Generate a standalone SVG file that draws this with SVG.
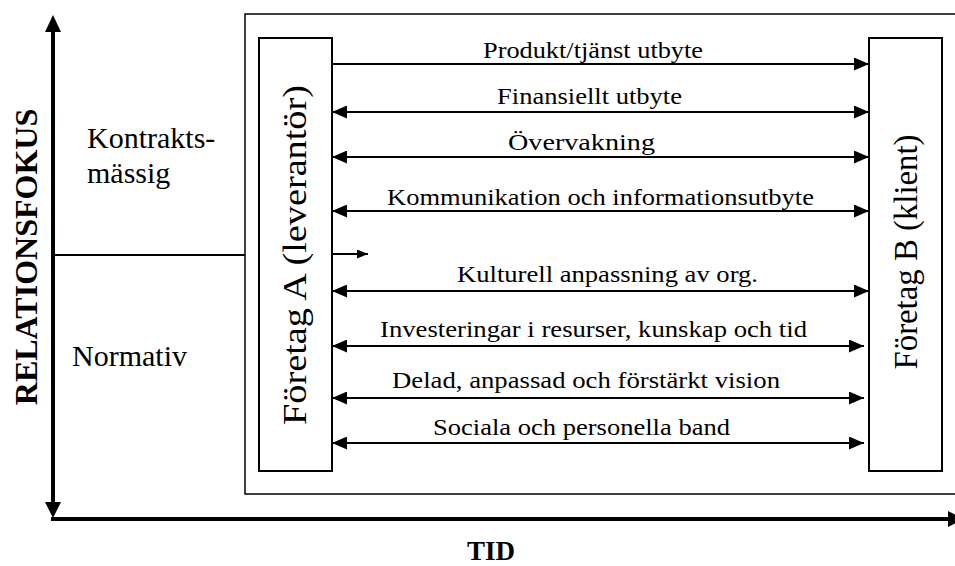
<svg xmlns="http://www.w3.org/2000/svg" width="955" height="566" viewBox="0 0 955 566">
<style>
text{font-family:'Liberation Serif','Times New Roman',serif;fill:#000}
.lbl{font-size:23.5px}
.side{font-size:30px}
.co{font-size:34px}
.ax{font-size:32px;font-weight:bold}
.box{fill:#fff;stroke:#000;stroke-width:2}
.conn{stroke:#000;stroke-width:2;fill:none}
.axis{stroke:#000;stroke-width:4;fill:none}
</style>
<defs>
<marker id="ah" markerUnits="userSpaceOnUse" markerWidth="15" markerHeight="13" refX="15" refY="6.5" orient="auto-start-reverse">
<path d="M0,0 L15,6.5 L0,13 z" fill="#000"/>
</marker>
<marker id="ahs" markerUnits="userSpaceOnUse" markerWidth="11" markerHeight="9" refX="11" refY="4.5" orient="auto">
<path d="M0,0 L11,4.5 L0,9 z" fill="#000"/>
</marker>
</defs>
<rect x="0" y="0" width="955" height="566" fill="#fff"/>

<g id="frame">
<rect x="245" y="14" width="720" height="480" fill="none" stroke="#000" stroke-width="1.5"/>
</g>

<g id="axes">
<line class="axis" x1="53" y1="30" x2="53" y2="503"/>
<path d="M45,32 L53,15 L61,32 z" fill="#000"/>
<path d="M45,502 L53,518 L61,502 z" fill="#000"/>
<line class="axis" x1="51" y1="519" x2="950" y2="519"/>
<path d="M948,511 L964,519 L948,527 z" fill="#000"/>
<line x1="53" y1="255" x2="245" y2="255" stroke="#000" stroke-width="2"/>
<text class="ax" transform="translate(37,257) rotate(-90)" text-anchor="middle">RELATIONSFOKUS</text>
<text class="ax" style="font-size:27px" x="491" y="560" text-anchor="middle">TID</text>
<text class="side" x="87" y="148">Kontrakts-</text>
<text class="side" x="87" y="183">mässig</text>
<text class="side" x="72" y="366">Normativ</text>
</g>

<g id="foretagA">
<rect class="box" x="259" y="38" width="73" height="433"/>
<text class="co" transform="translate(306,255) rotate(-90)" text-anchor="middle" textLength="340" lengthAdjust="spacingAndGlyphs">Företag A (leverantör)</text>
</g>

<g id="foretagB">
<rect class="box" x="869" y="38" width="73" height="433"/>
<text class="co" transform="translate(917,252) rotate(-90)" text-anchor="middle" textLength="235" lengthAdjust="spacingAndGlyphs">Företag B (klient)</text>
</g>

<g id="connectors">
<line class="conn" x1="332" y1="64" x2="869" y2="64" marker-end="url(#ah)"/>
<line class="conn" x1="332" y1="112" x2="869" y2="112" marker-start="url(#ah)" marker-end="url(#ah)"/>
<line class="conn" x1="332" y1="157" x2="869" y2="157" marker-start="url(#ah)" marker-end="url(#ah)"/>
<line class="conn" x1="332" y1="211" x2="869" y2="211" marker-start="url(#ah)" marker-end="url(#ah)"/>
<line class="conn" x1="332" y1="254" x2="368" y2="254" marker-end="url(#ahs)"/>
<line class="conn" x1="332" y1="291" x2="869" y2="291" marker-start="url(#ah)" marker-end="url(#ah)"/>
<line class="conn" x1="332" y1="346" x2="864" y2="346" marker-start="url(#ah)" marker-end="url(#ah)"/>
<line class="conn" x1="332" y1="398" x2="864" y2="398" marker-start="url(#ah)" marker-end="url(#ah)"/>
<line class="conn" x1="332" y1="443" x2="864" y2="443" marker-start="url(#ah)" marker-end="url(#ah)"/>
</g>

<g id="labels">
<text class="lbl" x="483" y="58" textLength="220" lengthAdjust="spacingAndGlyphs">Produkt/tjänst utbyte</text>
<text class="lbl" x="497" y="104" textLength="185" lengthAdjust="spacingAndGlyphs">Finansiellt utbyte</text>
<text class="lbl" x="508" y="150" textLength="147" lengthAdjust="spacingAndGlyphs">Övervakning</text>
<text class="lbl" x="387" y="205" textLength="427" lengthAdjust="spacingAndGlyphs">Kommunikation och informationsutbyte</text>
<text class="lbl" x="457" y="282" textLength="301" lengthAdjust="spacingAndGlyphs">Kulturell anpassning av org.</text>
<text class="lbl" x="380" y="337" textLength="427" lengthAdjust="spacingAndGlyphs">Investeringar i resurser, kunskap och tid</text>
<text class="lbl" x="392" y="388" textLength="388" lengthAdjust="spacingAndGlyphs">Delad, anpassad och förstärkt vision</text>
<text class="lbl" x="433" y="435" textLength="297" lengthAdjust="spacingAndGlyphs">Sociala och personella band</text>
</g>
</svg>
